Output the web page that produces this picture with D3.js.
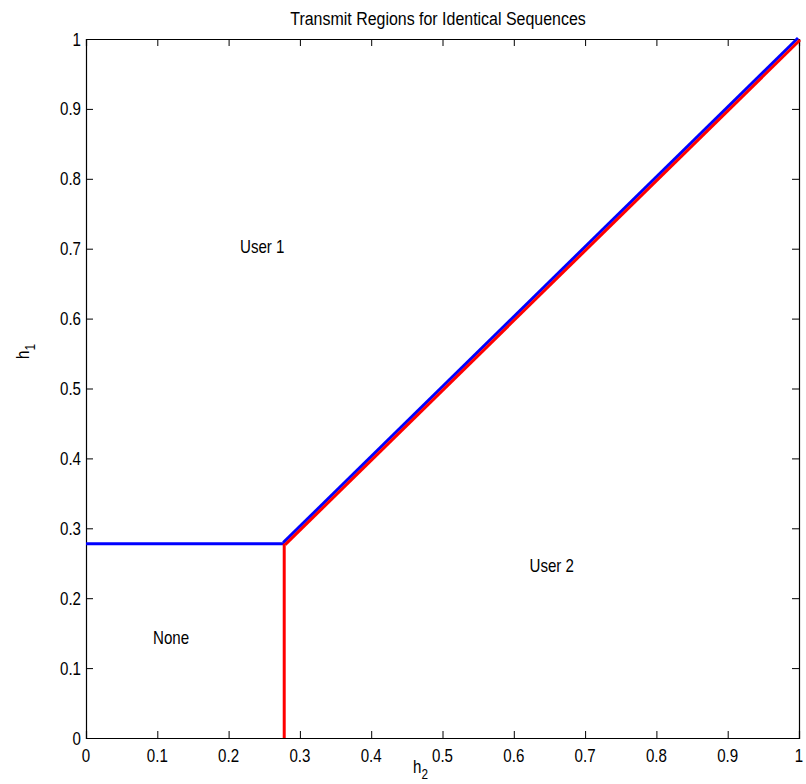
<!DOCTYPE html>
<html><head><meta charset="utf-8">
<script src="https://cdn.jsdelivr.net/npm/d3@7"></script>
<style>body{margin:0;background:#fff}svg{display:block}text{font-family:"Liberation Sans",Arial,Helvetica,sans-serif;fill:#000}</style>
</head><body>
<script>
// Data
const threshold = 0.278;
const blueHoriz = [[0, 0.278], [0.278, 0.278]];
const blueDiag = [[0.278, 0.278], [1, 1]];
const redVert = [[0.278, 0], [0.278, 0.278]];
const redDiag = [[0.278, 0.278], [1, 1]];
const xTicks = [0, 0.1, 0.2, 0.3, 0.4, 0.5, 0.6, 0.7, 0.8, 0.9, 1];
const yTicks = [0, 0.1, 0.2, 0.3, 0.4, 0.5, 0.6, 0.7, 0.8, 0.9, 1];
const regionLabels = ["User 1", "User 2", "None"];
const regionX = [0.216, 0.622, 0.094];
const regionY = [0.694, 0.238, 0.134];
const titleText = "Transmit Regions for Identical Sequences";

const W = 806, H = 784;
const m = {l: 86, t: 39, r: 7, b: 46};
const svg = d3.select("body").append("svg").attr("width", W).attr("height", H);
const x = d3.scaleLinear().domain([0, 1]).range([m.l, W - m.r]);
const y = d3.scaleLinear().domain([0, 1]).range([H - m.b, m.t]);
const SX = 0.84;

// axes
const tl = 7;
const fmt = d => d3.format("~g")(d);
const gB = svg.append("g").attr("transform", `translate(0,${y(0)})`)
  .call(d3.axisBottom(x).tickValues(xTicks).tickSize(-tl).tickPadding(0).tickFormat(""));
const gT = svg.append("g").attr("transform", `translate(0,${y(1)})`)
  .call(d3.axisTop(x).tickValues(xTicks).tickSize(-tl).tickFormat(""));
const gL = svg.append("g").attr("transform", `translate(${x(0)},0)`)
  .call(d3.axisLeft(y).tickValues(yTicks).tickSize(-tl).tickFormat(""));
const gR = svg.append("g").attr("transform", `translate(${x(1)},0)`)
  .call(d3.axisRight(y).tickValues(yTicks).tickSize(-tl).tickFormat(""));
[gB, gT, gL, gR].forEach(g => {
  g.select(".domain").attr("stroke", "#000").attr("stroke-width", 1.2);
  g.selectAll(".tick line").attr("stroke", "#000");
});

// tick labels
svg.append("g").selectAll("text").data(xTicks).join("text")
  .attr("transform", d => `translate(${x(d)},${y(0) + 23.5}) scale(${SX},1)`)
  .attr("text-anchor", "middle").style("font-size", "18px").text(fmt);
svg.append("g").selectAll("text").data(yTicks).join("text")
  .attr("transform", d => `translate(${x(0) - 5},${y(d) + 6.5}) scale(${SX},1)`)
  .attr("text-anchor", "end").style("font-size", "18px").text(fmt);

// lines
const line = d3.line().x(d => x(d[0])).y(d => y(d[1]));
svg.append("path").attr("d", line(blueHoriz)).attr("fill", "none").attr("stroke", "#0000ff").attr("stroke-width", 3);
svg.append("path").attr("d", line(blueDiag)).attr("transform", "translate(-1,-1)").attr("fill", "none").attr("stroke", "#0000ff").attr("stroke-width", 3);
svg.append("path").attr("d", line(redVert)).attr("fill", "none").attr("stroke", "#ff0000").attr("stroke-width", 3);
svg.append("path").attr("d", line(redDiag)).attr("transform", "translate(1,1)").attr("fill", "none").attr("stroke", "#ff0000").attr("stroke-width", 3);

// region labels
regionLabels.forEach((t, i) => {
  svg.append("text").attr("transform", `translate(${x(regionX[i])},${y(regionY[i])}) scale(${SX},1)`)
    .style("font-size", "18px").text(t);
});

// title
svg.append("text").attr("transform", `translate(438,25) scale(${SX},1)`)
  .attr("text-anchor", "middle").style("font-size", "19px").text(titleText);

// x label
const xl = svg.append("text").attr("transform", `translate(413,773) scale(${SX},1)`).style("font-size", "18px");
xl.append("tspan").text("h");
xl.append("tspan").attr("dy", 6).style("font-size", "14px").text("2");

// y label
const yl = svg.append("text").attr("transform", `translate(29,359) rotate(-90) scale(${SX},1)`).style("font-size", "18px");
yl.append("tspan").text("h");
yl.append("tspan").attr("dy", 6).style("font-size", "14px").text("1");
</script>
</body></html>
